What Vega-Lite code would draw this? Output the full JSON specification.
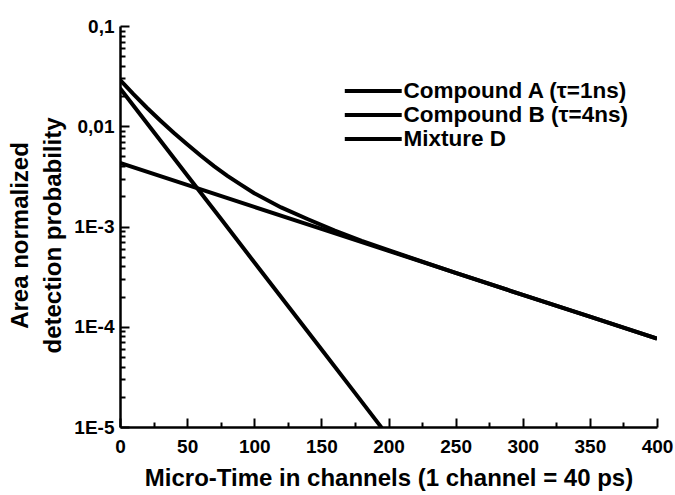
{
  "$schema": "https://vega.github.io/schema/vega-lite/v6.json",
  "autosize": "none",
  "padding": {"left": 120, "top": 26, "right": 18, "bottom": 68},
  "width": 537,
  "height": 401,
  "background": "white",
  "config": {
    "view": {"stroke": null},
    "font": "Liberation Sans",
    "axis": {
      "domainColor": "black", "domainWidth": 2.5, "ticks": false,
      "labelFont": "Liberation Sans", "labelFontWeight": "bold", "labelColor": "black", "labelFontSize": 19,
      "titleFont": "Liberation Sans", "titleFontWeight": "bold", "titleColor": "black", "titleFontSize": 24,
      "gridColor": "black", "gridWidth": 2, "gridOpacity": 1,
      "labelOverlap": false, "labelBound": false, "labelFlush": false
    },
    "legend": {
      "labelFont": "Liberation Sans", "labelFontWeight": "bold", "labelFontSize": 22.5, "labelColor": "black", "labelLimit": 500
    }
  },
  "data": {
    "values": [
      {"series": "Compound A (τ=1ns)", "t": 0, "p": 0.024},
      {"series": "Compound A (τ=1ns)", "t": 25, "p": 0.00883},
      {"series": "Compound A (τ=1ns)", "t": 50, "p": 0.00325},
      {"series": "Compound A (τ=1ns)", "t": 75, "p": 0.0012},
      {"series": "Compound A (τ=1ns)", "t": 100, "p": 0.00044},
      {"series": "Compound A (τ=1ns)", "t": 125, "p": 0.000162},
      {"series": "Compound A (τ=1ns)", "t": 150, "p": 0.0000596},
      {"series": "Compound A (τ=1ns)", "t": 175, "p": 0.0000219},
      {"series": "Compound A (τ=1ns)", "t": 195, "p": 0.0000098},
      {"series": "Compound B (τ=4ns)", "t": 0, "p": 0.0043},
      {"series": "Compound B (τ=4ns)", "t": 50, "p": 0.0026},
      {"series": "Compound B (τ=4ns)", "t": 100, "p": 0.00157},
      {"series": "Compound B (τ=4ns)", "t": 150, "p": 0.000947},
      {"series": "Compound B (τ=4ns)", "t": 200, "p": 0.000572},
      {"series": "Compound B (τ=4ns)", "t": 250, "p": 0.000345},
      {"series": "Compound B (τ=4ns)", "t": 300, "p": 0.000208},
      {"series": "Compound B (τ=4ns)", "t": 350, "p": 0.000126},
      {"series": "Compound B (τ=4ns)", "t": 400, "p": 0.000076},
      {"series": "Mixture D", "t": 0, "p": 0.029},
      {"series": "Mixture D", "t": 10, "p": 0.0209},
      {"series": "Mixture D", "t": 20, "p": 0.0153},
      {"series": "Mixture D", "t": 30, "p": 0.0114},
      {"series": "Mixture D", "t": 40, "p": 0.0086},
      {"series": "Mixture D", "t": 50, "p": 0.0066},
      {"series": "Mixture D", "t": 60, "p": 0.0051},
      {"series": "Mixture D", "t": 70, "p": 0.0040},
      {"series": "Mixture D", "t": 80, "p": 0.0032},
      {"series": "Mixture D", "t": 90, "p": 0.00262},
      {"series": "Mixture D", "t": 100, "p": 0.00215},
      {"series": "Mixture D", "t": 120, "p": 0.00155},
      {"series": "Mixture D", "t": 140, "p": 0.00118},
      {"series": "Mixture D", "t": 160, "p": 0.00091},
      {"series": "Mixture D", "t": 180, "p": 0.00072},
      {"series": "Mixture D", "t": 200, "p": 0.00058},
      {"series": "Mixture D", "t": 250, "p": 0.000345},
      {"series": "Mixture D", "t": 300, "p": 0.000208},
      {"series": "Mixture D", "t": 350, "p": 0.000126},
      {"series": "Mixture D", "t": 400, "p": 0.000076}
    ]
  },
  "layer": [
    {
      "mark": {"type": "line", "opacity": 0},
      "encoding": {
        "x": {
          "field": "t", "type": "quantitative",
          "scale": {"domain": [0, 400], "nice": false},
          "axis": {"orient": "bottom", "title": null, "labels": false, "grid": false, "domain": true}
        },
        "y": {
          "field": "p", "type": "quantitative",
          "scale": {"type": "log", "domain": [0.00001, 0.1], "nice": false},
          "axis": {"orient": "left", "title": null, "labels": false, "grid": false, "domain": true}
        },
        "detail": {"field": "series", "type": "nominal"}
      }
    },
    {
      "mark": {"type": "line", "opacity": 0},
      "encoding": {
        "x": {
          "field": "t", "type": "quantitative",
          "scale": {"domain": [0, 400], "nice": false},
          "axis": {
            "orient": "top", "title": null, "labels": false, "domain": false,
            "values": [25, 75, 125, 175, 225, 275, 325, 375],
            "grid": true, "gridDash": [5, 2000]
          }
        },
        "y": {
          "field": "p", "type": "quantitative",
          "scale": {"type": "log", "domain": [0.00001, 0.1], "nice": false},
          "axis": {
            "orient": "left", "title": null, "labels": false, "domain": false,
            "values": [0.00002, 0.00003, 0.00004, 0.00005, 0.00006, 0.00007, 0.00008, 0.00009,
                       0.0002, 0.0003, 0.0004, 0.0005, 0.0006, 0.0007, 0.0008, 0.0009,
                       0.002, 0.003, 0.004, 0.005, 0.006, 0.007, 0.008, 0.009,
                       0.02, 0.03, 0.04, 0.05, 0.06, 0.07, 0.08, 0.09],
            "grid": true, "gridDash": [5, 2000]
          }
        },
        "detail": {"field": "series", "type": "nominal"}
      }
    },
    {
      "mark": {"type": "line", "opacity": 0},
      "encoding": {
        "x": {
          "field": "t", "type": "quantitative",
          "scale": {"domain": [0, 400], "nice": false},
          "axis": {
            "orient": "top", "title": null, "labels": false, "domain": false,
            "values": [0, 50, 100, 150, 200, 250, 300, 350, 400],
            "grid": true, "gridDash": [9, 2000]
          }
        },
        "y": {
          "field": "p", "type": "quantitative",
          "scale": {"type": "log", "domain": [0.00001, 0.1], "nice": false},
          "axis": {
            "orient": "left", "title": null, "labels": false, "domain": false,
            "values": [0.00001, 0.0001, 0.001, 0.01, 0.1],
            "grid": true, "gridDash": [9, 2000]
          }
        },
        "detail": {"field": "series", "type": "nominal"}
      }
    },
    {
      "mark": {"type": "line", "strokeWidth": 4, "clip": true, "strokeCap": "butt"},
      "encoding": {
        "x": {
          "field": "t", "type": "quantitative",
          "scale": {"domain": [0, 400], "nice": false},
          "axis": {
            "orient": "bottom", "domain": false, "grid": false,
            "title": "Micro-Time in channels (1 channel = 40 ps)",
            "values": [0, 50, 100, 150, 200, 250, 300, 350, 400],
            "format": "d",
            "labelPadding": 10,
            "titlePadding": 10
          }
        },
        "y": {
          "field": "p", "type": "quantitative",
          "scale": {"type": "log", "domain": [0.00001, 0.1], "nice": false},
          "axis": {
            "orient": "left", "domain": false, "grid": false,
            "title": ["Area normalized", "detection probability"],
            "titleLineHeight": 33,
            "titleY": 209,
            "values": [0.00001, 0.0001, 0.001, 0.01, 0.1],
            "labelExpr": "datum.value > 0.05 ? '0,1' : (datum.value > 0.005 ? '0,01' : (datum.value > 0.0005 ? '1E-3' : (datum.value > 0.00005 ? '1E-4' : '1E-5')))",
            "labelPadding": 6,
            "titlePadding": 8
          }
        },
        "color": {
          "field": "series", "type": "nominal",
          "scale": {"domain": ["Compound A (τ=1ns)", "Compound B (τ=4ns)", "Mixture D"], "range": ["black", "black", "black"]},
          "legend": {
            "title": null, "orient": "none", "legendX": 241.25, "legendY": 53,
            "symbolType": "M-2.92,0H2.92", "symbolSize": 380, "symbolStrokeWidth": 4, "symbolStrokeColor": "black",
            "labelOffset": 18.25, "rowPadding": 0, "padding": 0
          }
        }
      }
    }
  ],
  "resolve": {"axis": {"x": "independent", "y": "independent"}}
}
